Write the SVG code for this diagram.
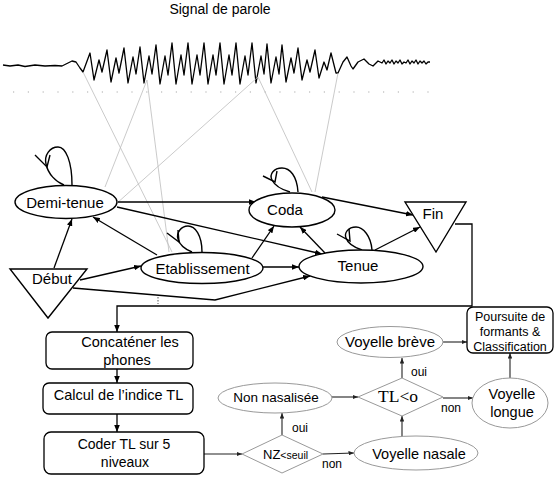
<svg xmlns="http://www.w3.org/2000/svg" width="557" height="479" viewBox="0 0 557 479">
<defs>
<marker id="ah" viewBox="0 0 10 8" refX="10" refY="4" markerWidth="7" markerHeight="5.6" orient="auto" markerUnits="userSpaceOnUse"><path d="M0,0 L10,4 L0,8 z" fill="#000"/></marker>
<marker id="ah2" viewBox="0 0 10 8" refX="10" refY="4" markerWidth="5.5" markerHeight="4.4" orient="auto" markerUnits="userSpaceOnUse"><path d="M0,0 L10,4 L0,8 z" fill="#222"/></marker>
</defs>
<style>
text{font-family:"Liberation Sans",Arial,sans-serif;fill:#000}
.n{fill:#fff;stroke:#000;stroke-width:1.4}
.g{fill:#fff;stroke:#999;stroke-width:1}
.box{fill:#fff;stroke:#000;stroke-width:1.3}
.c{fill:none;stroke:#000;stroke-width:1.3}
.c2{fill:none;stroke:#222;stroke-width:1.1}
.gl{fill:none;stroke:#bdbdbd;stroke-width:0.8}
.loop{fill:none;stroke:#000;stroke-width:1.4}
.t15{font-size:15px}
.lab{font-size:12px}
</style>
<rect width="557" height="479" fill="#fff"/>
<g id="signal">
<text x="220" y="14" font-size="14" text-anchor="middle">Signal de parole</text>
<path fill="none" stroke="#000" stroke-width="1.3" stroke-linejoin="round" d="M3,65 L10,66 L18,65 L25,66.5 L35,65 L45,66 L55,65.5 L62,66 L68,63 L72,61 L76,62 L80,68 L83,72 L90,53 L94,80 L99,60 L102,72 L107,50 L111,82 L116,58 L119,73 L124,48 L128,83 L133,57 L136,74 L140,47 L144,83 L149,56 L152,74 L156,45 L160,84 L165,56 L168,75 L172,43 L176,84 L181,55 L184,75 L188,43 L192,84 L197,55 L200,75 L204,43 L208,84 L213,55 L216,75 L220,43 L224,84 L229,55 L232,75 L236,43 L240,84 L245,56 L248,75 L252,43 L256,83 L261,56 L264,74 L267,44 L271,83 L276,57 L279,74 L282,45 L286,82 L291,58 L294,73 L298,48 L302,80 L307,60 L310,72 L315,50 L319,78 L324,62 L327,70 L331,53 L336,73 L338,73 L343,62 L347,57 L351,66 L353,69 L358,62 L364,59 L369,64 L373,66 L378,61 L382,63 L384,60 L386,64 L388,61 L390,63 L392,60 L394,64 L396,61 L398,63 L400,60 L402,64 L404,62 L406,63 L408,60 L410,64 L412,61 L414,63 L416,60 L418,64 L420,61 L422,63 L424,61 L426,64 L428,62 L430,62"/>
<line x1="13" y1="92" x2="430" y2="92" stroke="#aaa" stroke-width="1.2" stroke-dasharray="1.2 13.6"/>
<line class="gl" x1="83" y1="72" x2="172" y2="252"/>
<line class="gl" x1="147" y1="80" x2="105" y2="187"/>
<line class="gl" x1="147" y1="80" x2="169" y2="252"/>
<line class="gl" x1="258" y1="77" x2="116" y2="204"/>
<line class="gl" x1="258" y1="77" x2="312" y2="192"/>
<line class="gl" x1="338" y1="73" x2="315" y2="192"/>
</g>
<g id="connectors">
<line class="c" x1="54" y1="268" x2="72" y2="219" marker-end="url(#ah)"/>
<line class="c" x1="80" y1="280" x2="141" y2="266" marker-end="url(#ah)"/>
<polyline class="c" points="73,288 215,300 310,276" marker-end="url(#ah)"/>
<line class="c" x1="157" y1="255" x2="93" y2="217" marker-end="url(#ah)"/>
<line class="c" x1="118" y1="202" x2="256" y2="202" marker-end="url(#ah)"/>
<line class="c" x1="117" y1="207" x2="322" y2="254" marker-end="url(#ah)"/>
<line class="c" x1="252" y1="258" x2="274" y2="226" marker-end="url(#ah)"/>
<line class="c" x1="263" y1="267" x2="299" y2="267" marker-end="url(#ah)"/>
<line class="c" x1="325" y1="253" x2="300" y2="227" marker-end="url(#ah)"/>
<line class="c" x1="322" y1="197" x2="413" y2="215" marker-end="url(#ah)"/>
<line class="c" x1="375" y1="250" x2="420" y2="227" marker-end="url(#ah)"/>
<polyline class="c" points="455,224 472,224 472,306 117,306 117,332" marker-end="url(#ah)"/>
<line x1="158" y1="297" x2="158" y2="304" stroke="#555" stroke-width="1" stroke-dasharray="1.5 1.5"/>
<line class="c" x1="117" y1="369" x2="117" y2="383" marker-end="url(#ah)"/>
<line class="c" x1="117" y1="414" x2="117" y2="432" marker-end="url(#ah)"/>
<line class="c2" x1="204" y1="454" x2="242" y2="454" marker-end="url(#ah2)"/>
<line class="c2" x1="282" y1="435" x2="282" y2="413" marker-end="url(#ah2)"/>
<line class="c2" x1="323" y1="454" x2="354" y2="453" marker-end="url(#ah2)"/>
<line class="c2" x1="332" y1="397" x2="358" y2="397" marker-end="url(#ah2)"/>
<line class="c2" x1="402" y1="436" x2="402" y2="416" marker-end="url(#ah2)"/>
<line class="c2" x1="402" y1="378" x2="402" y2="358" marker-end="url(#ah2)"/>
<line class="c2" x1="443" y1="398" x2="473" y2="398" marker-end="url(#ah2)"/>
<line class="c2" x1="443" y1="342" x2="467" y2="342" marker-end="url(#ah2)"/>
<line class="c2" x1="510" y1="378" x2="510" y2="353" marker-end="url(#ah2)"/>
<text class="lab" x="300" y="432" text-anchor="middle">oui</text>
<text class="lab" x="332" y="468" text-anchor="middle">non</text>
<text class="lab" x="419" y="376" text-anchor="middle">oui</text>
<text class="lab" x="451" y="412" text-anchor="middle">non</text>
</g>
<g id="demi-tenue">
<path class="loop" d="M72,185 C72,162 66,147 58,147 C50,147 44,155 46,164 C48,174 56,182 64,185"/>
<path class="loop" d="M35,155 L47,167 L50,155"/>
<ellipse class="n" cx="66" cy="202" rx="51" ry="16.5"/>
<text class="t15" x="65" y="208" text-anchor="middle">Demi-tenue</text>
</g>
<g id="coda">
<path class="loop" d="M298,192 C297,176 290,168 282,168 C274,168 269,174 272,180 C275,186 283,190 290,192"/>
<path class="loop" d="M263,176 L275,182 L277,171"/>
<ellipse class="n" cx="292" cy="210" rx="43" ry="17"/>
<text class="t15" x="285" y="215" text-anchor="middle">Coda</text>
</g>
<g id="etablissement">
<path class="loop" d="M202,252 C202,235 195,226 188,226 C181,226 176,233 178,239 C180,246 187,250 192,252"/>
<path class="loop" d="M167,233 L179,242 L178,230"/>
<ellipse class="n" cx="202" cy="268" rx="61" ry="15.5"/>
<text class="t15" x="202.5" y="274" text-anchor="middle">Etablissement</text>
</g>
<g id="tenue">
<path class="loop" d="M372,250 C371,236 363,227 356,227 C348,227 344,233 346,238 C348,244 356,248 362,250"/>
<path class="loop" d="M337,234 L350,241 L349,229"/>
<ellipse class="n" cx="361" cy="266.5" rx="62" ry="16.5"/>
<text class="t15" x="358" y="271" text-anchor="middle">Tenue</text>
</g>
<g id="fin">
<polygon class="n" points="405,202 466,202 436,252"/>
<text class="t15" x="433" y="219" text-anchor="middle">Fin</text>
</g>
<g id="debut">
<polygon class="n" points="10,269 87,269 48,318"/>
<text class="t15" x="52" y="284" text-anchor="middle">Début</text>
</g>
<g id="concatener">
<rect class="box" x="46" y="332" width="147" height="37" rx="6"/>
<text font-size="14.5" x="130" y="347" text-anchor="middle">Concaténer les</text>
<text font-size="14.5" x="127" y="365" text-anchor="middle">phones</text>
</g>
<g id="calcul">
<rect class="box" x="43" y="383" width="150" height="31" rx="6"/>
<text font-size="14.5" x="118.5" y="400" text-anchor="middle">Calcul de l’indice TL</text>
</g>
<g id="coder">
<rect class="box" x="44" y="432" width="160" height="42" rx="7"/>
<text font-size="14" x="124" y="449" text-anchor="middle">Coder TL sur 5</text>
<text font-size="14" x="125" y="467" text-anchor="middle">niveaux</text>
</g>
<g id="nz">
<polygon class="g" points="242,454 282,435 323,454 282,473"/>
<text x="263" y="459"><tspan font-size="13">NZ</tspan><tspan font-size="10.5">&lt;seuil</tspan></text>
</g>
<g id="non-nasalisee">
<ellipse class="g" cx="275" cy="398" rx="57" ry="15"/>
<text font-size="13.5" x="276" y="402" text-anchor="middle">Non nasalisée</text>
</g>
<g id="voyelle-nasale">
<ellipse class="g" cx="416" cy="453" rx="62" ry="17"/>
<text font-size="14.5" x="419" y="459" text-anchor="middle">Voyelle nasale</text>
</g>
<g id="tl">
<polygon class="g" points="358,397 402,378 443,397 402,416"/>
<text x="398" y="402" font-size="17.5" text-anchor="middle" style="font-family:'Liberation Serif','Times New Roman',serif">TL&lt;o</text>
</g>
<g id="voyelle-breve">
<ellipse class="g" cx="390" cy="342" rx="53" ry="15.5"/>
<text class="t15" x="390" y="347" text-anchor="middle">Voyelle brève</text>
</g>
<g id="voyelle-longue">
<ellipse class="g" cx="510" cy="403" rx="38" ry="25"/>
<text font-size="14.5" x="512" y="398.5" text-anchor="middle">Voyelle</text>
<text font-size="14.5" x="512" y="416.5" text-anchor="middle">longue</text>
</g>
<g id="poursuite">
<rect class="box" x="467" y="307" width="86" height="46" rx="6"/>
<text font-size="12.5" x="510" y="321" text-anchor="middle">Poursuite de</text>
<text font-size="12.5" x="510" y="336" text-anchor="middle">formants &amp;</text>
<text font-size="12.5" x="510" y="350.5" text-anchor="middle">Classification</text>
</g>
</svg>
